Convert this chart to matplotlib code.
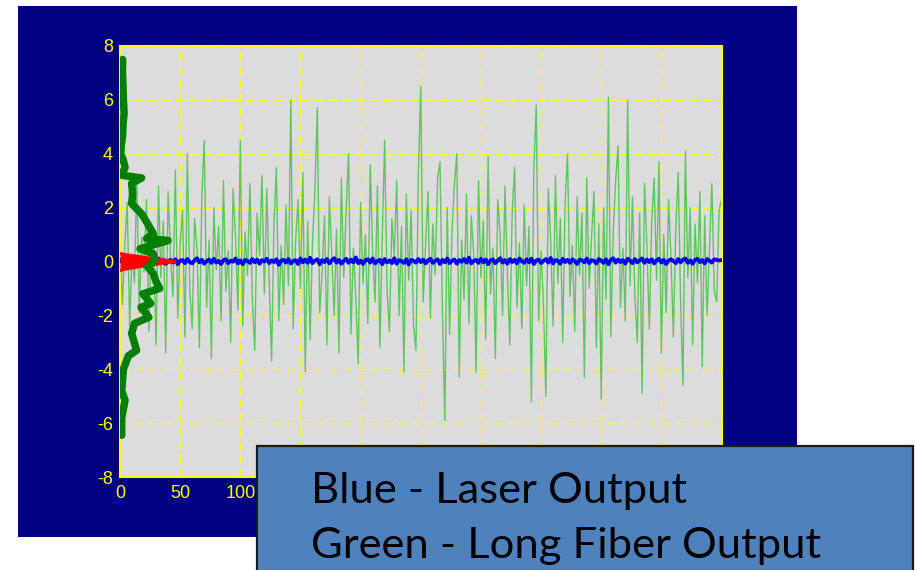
import numpy as np
import matplotlib
matplotlib.use("Agg")
import matplotlib.pyplot as plt
from matplotlib.patches import Rectangle

# fiber output samples (every second time step, 0..500)
fiber_out = [
    1.0, -1.6, 0.6, 2.2, -2.4, 0.3, -0.8, 3.1, -1.9, 0.9,
    -0.4, 2.3, -2.6, 1.2, 0.4, -3.1, 2.8, -0.6, 1.5, -3.4,
    2.6, 0.2, -1.3, 3.4, -2.1, 0.7, 1.9, -2.8, 4.0, -1.0,
    -2.5, 1.6, 0.5, -3.2, 2.4, 4.5, -1.7, 0.8, -3.6, 2.0,
    -0.3, 1.3, -2.2, 3.0, -1.1, 0.4, -3.0, 2.7, 0.9, -1.8,
    4.5, -2.4, 1.1, -0.5, 2.9, -1.4, -3.3, 1.8, 0.2, 3.2,
    -1.2, 2.7, -0.7, -3.7, 1.4, 3.5, -2.2, 0.6, -1.6, 2.1,
    -0.9, 6.0, -2.5, 0.8, 2.3, -1.0, 3.3, -4.1, 1.5, -2.9,
    0.7, 2.6, 5.7, -1.9, -0.4, 1.7, -3.1, 2.4, 0.3, -2.0,
    1.2, -3.4, 3.1, -0.6, 1.9, 4.0, -2.7, 0.5, -1.3, -3.8,
    2.2, -0.8, 1.0, -2.3, 3.6, 0.4, -1.5, 2.8, -3.2, 0.9,
    4.5, -1.1, -2.6, 1.6, 0.2, 3.0, -2.0, 1.3, -4.1, 2.5,
    -0.7, 1.9, -2.4, -3.3, 3.2, 6.5, -1.5, 0.6, 2.6, -2.1,
    1.4, -0.5, 3.1, 3.7, -1.8, -5.9, 2.0, -2.7, 1.1, 2.9,
    4.0, -4.3, 0.8, -1.4, 2.5, -2.3, 1.7, 0.3, -4.1, 3.0,
    -0.6, 1.5, -2.9, 3.9, -1.2, 0.5, -3.6, 2.3, 1.0, -2.0,
    2.8, -0.4, -3.1, 1.8, 3.5, -1.7, 0.7, -2.5, 2.1, -0.9,
    1.3, -5.2, 3.4, 5.8, -2.2, 0.4, -1.6, -5.0, 2.7, 0.8,
    -2.4, 3.2, -0.8, 1.6, -3.0, 2.2, 4.0, -1.3, 0.6, -2.6,
    2.4, -0.5, 1.8, -4.3, 3.1, -1.0, 0.9, 2.6, -3.2, 1.4,
    -5.1, 2.0, -1.4, 6.1, -2.8, 1.1, 3.0, 4.3, -1.7, 0.5,
    -2.2, 6.0, -0.9, 2.4, -1.3, -3.0, 1.8, -4.9, 2.9, 0.6,
    -2.5, 1.5, 3.1, -0.7, 3.7, -3.4, 1.0, -1.9, 2.3, 0.2,
    -2.8, 1.2, 3.3, -1.5, -4.6, 4.1, -0.6, 2.0, -3.1, 1.4,
    -0.8, 2.6, -3.9, 1.7, -2.0, 0.5, 2.9, -1.1, -1.5, 1.9,
    2.3,
]

# laser output samples (every second time step)
laser_out = [
    0.05, -0.03, 0.08, -0.06, 0.02, 0.10, -0.04, 0.06, -0.08, 0.03,
    -0.05, 0.09, 0.01, -0.07, 0.04, -0.02, 0.11, -0.05, 0.07, -0.09,
    0.02, 0.06, -0.04, 0.08, -0.10, 0.03, 0.05, -0.06, 0.09, -0.02,
    -0.07, 0.04, 0.12, -0.03, 0.06, -0.08, 0.01, 0.07, -0.05, 0.10,
    -0.04, 0.02, -0.09, 0.05, 0.08, -0.06, 0.03, -0.01, 0.11, -0.07,
    0.04, -0.10, 0.06, 0.02, -0.05, 0.09, -0.03, 0.07, -0.08, 0.05,
    0.00, 0.10, -0.06, 0.04, -0.02, 0.08, -0.12, 0.03, 0.06, -0.04,
    0.09, -0.07, 0.02, 0.05, -0.09, 0.11, -0.03, 0.07, -0.05, 0.14,
    -0.06, 0.03, 0.08, -0.10, 0.05, -0.02, 0.09, -0.07, 0.04, 0.12,
    -0.04, 0.06, -0.08, 0.02, 0.10, -0.05, 0.07, -0.03, 0.15, -0.06,
    0.03, -0.09, 0.05, 0.08, -0.04, 0.11, -0.07, 0.02, 0.06, -0.10,
    0.09, -0.03, 0.04, -0.06, 0.12, -0.08, 0.05, 0.01, -0.05, 0.08,
    -0.11, 0.06, 0.03, -0.04, 0.09, -0.02, 0.07, -0.07, 0.04, 0.10,
    -0.05, 0.02, 0.08, -0.09, 0.06, -0.03, 0.11, -0.06, 0.03, 0.07,
    -0.08, 0.05, -0.01, 0.09, -0.04, 0.14, -0.07, 0.02, 0.06, -0.05,
    0.10, -0.03, 0.07, -0.10, 0.04, 0.08, -0.06, 0.03, 0.12, -0.04,
    0.05, -0.08, 0.09, -0.02, 0.06, -0.07, 0.11, 0.01, -0.05, 0.08,
    -0.03, 0.10, -0.09, 0.04, 0.07, -0.06, 0.02, 0.09, -0.04, 0.13,
    -0.07, 0.05, 0.03, -0.08, 0.10, -0.02, 0.06, -0.05, 0.08, 0.01,
    -0.09, 0.07, 0.04, -0.03, 0.11, -0.06, 0.05, 0.02, -0.07, 0.09,
    0.03, -0.05, 0.08, -0.10, 0.06, 0.12, -0.04, 0.07, -0.02, 0.05,
    -0.08, 0.10, 0.03, -0.06, 0.09, -0.03, 0.04, 0.11, -0.05, 0.07,
    -0.02, 0.08, -0.07, 0.05, 0.10, -0.04, 0.06, -0.09, 0.03, 0.08,
    0.02, -0.06, 0.09, -0.03, 0.07, 0.11, -0.05, 0.04, -0.08, 0.06,
    0.10, -0.02, 0.05, -0.07, 0.09, 0.03, -0.04, 0.08, 0.06, 0.04,
    0.05,
]

# histogram of laser output (counts vs amplitude)
laser_bins = [0.30, 0.25, 0.20, 0.15, 0.10, 0.05, 0.00, -0.05, -0.10, -0.15, -0.20, -0.25, -0.30, -0.35]
laser_counts = [0, 6, 14, 22, 30, 38, 46, 39, 31, 23, 16, 9, 3, 0]

# histogram of fiber output (counts vs amplitude)
fiber_bins = [7.5, 7.0, 6.5, 6.0, 5.5, 5.1, 4.7, 4.3, 4.0, 3.75, 3.5, 3.2, 3.15, 3.1, 2.9, 2.5,
              2.15, 1.95, 1.77, 1.4, 1.03, 0.85, 0.78, 0.47, 0.29, 0.05, -0.2, -0.45, -0.75,
              -1.0, -1.2, -1.56, -1.7, -2.07, -2.3, -2.67, -3.3, -3.5, -4.0, -4.8, -5.15, -5.8, -6.45]
fiber_counts = [2.2, 2.0, 2.5, 2.8, 3.4, 2.5, 2.2, 1.0, 0.6, 2.8, 4.2, 1.4, 10, 18, 9.7, 10.5,
                9.7, 14, 18, 23, 27.7, 22, 40, 16.6, 27.7, 29, 23, 27.7, 30,
                33, 19, 25.5, 17.5, 24, 12, 9.7, 13.8, 7, 2.8, 1.4, 4.2, 1.4, 1.4]

xticks = [0, 50, 100, 150, 200, 250, 300, 350, 400, 450, 500]
yticks = [-8, -6, -4, -2, 0, 2, 4, 6, 8]
legend_lines = ["Blue - Laser Output", "Green - Long Fiber Output"]

fiber_t = np.arange(len(fiber_out)) * 2
laser_t = np.arange(len(laser_out)) * 2

fig = plt.figure(figsize=(9.15, 5.70), dpi=100, facecolor="white")

# navy panel behind the plot
fig.patches.append(Rectangle((18 / 915, 1 - 537 / 570), (797 - 18) / 915, (537 - 6) / 570,
                             transform=fig.transFigure, facecolor="#000080", edgecolor="none", zorder=-10))

ax = fig.add_axes([120 / 915, 1 - 477 / 570, (721.5 - 120) / 915, (477 - 46) / 570])
ax.set_facecolor("#DCDCDC")

ax.plot(fiber_t, fiber_out, color="#4DBF4D", lw=1.0, alpha=0.85, zorder=2)
ax.plot(laser_t, laser_out, color="#0000FF", lw=2.8, zorder=3)
ax.fill_betweenx(laser_bins, 0, laser_counts, color="red", lw=0, zorder=4)
ax.plot(laser_counts, laser_bins, color="red", lw=2, zorder=4)
ax.plot(fiber_counts, fiber_bins, color="#007F00", lw=5.4, solid_capstyle="round",
        solid_joinstyle="round", zorder=5)

ax.set_xlim(0, 500)
ax.set_ylim(-8, 8)
ax.set_xticks(xticks)
ax.set_yticks(yticks)
ax.set_xticklabels([str(v) for v in xticks])
ax.set_yticklabels([str(v) for v in yticks])
for lab in ax.get_xticklabels() + ax.get_yticklabels():
    lab.set_family(["Liberation Sans Narrow", "Liberation Sans"])
    lab.set_fontsize(13)
    lab.set_color("yellow")
ax.tick_params(axis="x", length=0, pad=6)
ax.tick_params(axis="y", length=0, pad=5)
ax.grid(True, color="yellow", linestyle=(0, (6, 4)), lw=1.0)
ax.set_axisbelow(True)
for sp in ax.spines.values():
    sp.set_color("yellow")
    sp.set_linewidth(1.5)

# caption box over the lower right corner
fig.patches.append(Rectangle((256.7 / 915, -0.1), (913 - 256.7) / 915, 0.1 + 1 - 446 / 570,
                             transform=fig.transFigure, facecolor="#4F81BD", edgecolor="#1A1A1A",
                             lw=1.6, zorder=10, clip_on=False))
fig.text(311 / 915, 1 - 503 / 570, legend_lines[0], family="Lato", fontsize=31.3,
         color="black", va="baseline", ha="left", zorder=11)
fig.text(311 / 915, 1 - 558 / 570, legend_lines[1], family="Lato", fontsize=31.3,
         color="black", va="baseline", ha="left", zorder=11)

fig.savefig("out.png", dpi=100, facecolor="white")
